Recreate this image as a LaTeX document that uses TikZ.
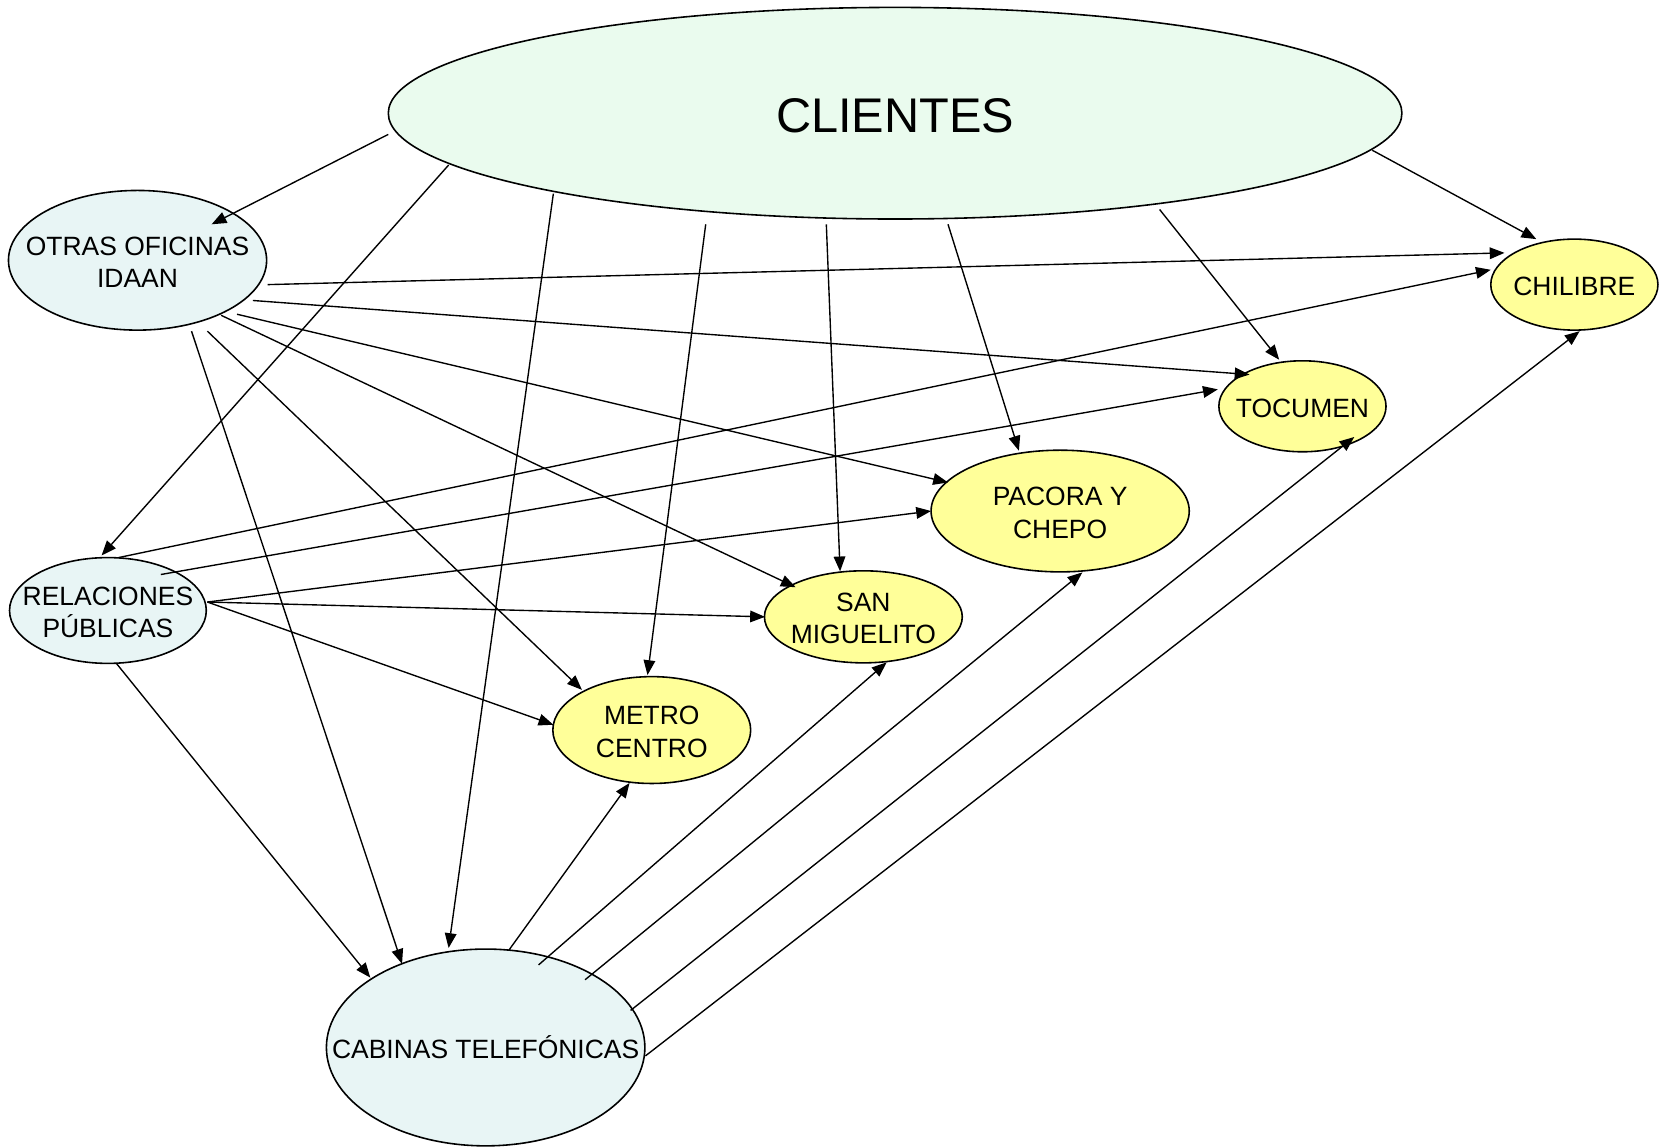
\documentclass[tikz,border=0pt]{standalone}
\usepackage{fontspec}
\setmainfont{Liberation Sans}
\usetikzlibrary{shapes.geometric,arrows.meta,calc}
\definecolor{cliefill}{HTML}{EAFBEE}
\definecolor{srcfill}{HTML}{E8F5F5}
\definecolor{dstfill}{HTML}{FFFF99}
\newcommand{\lbl}[1]{\makebox[0pt]{\raisebox{-10.5pt}[0pt][0pt]{\begin{tabular}{@{}c@{}}#1\end{tabular}}}}
\tikzset{
  bub/.style={ellipse, draw=black, line width=1.5pt, inner sep=0pt, font=\fontsize{25}{30.5}\selectfont},
  srcbub/.style={bub, fill=srcfill},
  dstbub/.style={bub, fill=dstfill},
  arr/.style={-{Triangle[length=14pt,width=11pt]}, line width=1.3pt}
}
\begin{document}
\begin{tikzpicture}[x=1pt,y=-1pt]
\useasboundingbox (0,0) rectangle (1568,1084);
% nodes
\node[bub, fill=cliefill, minimum width=958, minimum height=200, font=\fontsize{46}{54}\selectfont] (cli) at (846,107) {\makebox[0pt]{\raisebox{-18pt}[0pt][0pt]{CLIENTES}}};
\node[srcbub, minimum width=244, minimum height=132] (ofi) at (130,246) {\lbl{OTRAS OFICINAS\\IDAAN}};
\node[srcbub, minimum width=186, minimum height=100] (rel) at (102,577) {\lbl{RELACIONES\\PÚBLICAS}};
\node[srcbub, minimum width=301, minimum height=186] (cab) at (459,990) {\lbl{CABINAS TELEFÓNICAS}};
\node[dstbub, minimum width=187, minimum height=101] (met) at (616,690) {\lbl{METRO\\CENTRO}};
\node[dstbub, minimum width=187, minimum height=87] (san) at (816,583) {\lbl{SAN\\MIGUELITO}};
\node[dstbub, minimum width=244, minimum height=115] (pac) at (1002,483) {\lbl{PACORA Y\\CHEPO}};
\node[dstbub, minimum width=158, minimum height=86] (toc) at (1231,384) {\lbl{TOCUMEN}};
\node[dstbub, minimum width=158, minimum height=86] (chi) at (1488,269) {\lbl{CHILIBRE}};
% from CLIENTES
\draw[arr] ($(cli)+(-479,20)$) -- ($(ofi)+(70,-34)$);
\draw[arr] ($(cli)+(-422,49)$) -- ($(rel)+(-6,-52)$);
\draw[arr] ($(cli)+(-323,76)$) -- ($(cab)+(-35,-94)$);
\draw[arr] ($(cli)+(-179,105)$) -- ($(met)+(-4,-52)$);
\draw[arr] ($(cli)+(-65,105)$) -- ($(san)+(-22,-43)$);
\draw[arr] ($(cli)+(50,105)$) -- ($(pac)+(-39,-57)$);
\draw[arr] ($(cli)+(250,91)$) -- ($(toc)+(-22,-44)$);
\draw[arr] ($(cli)+(451,35)$) -- ($(chi)+(-36,-43)$);
% from OTRAS OFICINAS
\draw[arr] ($(ofi)+(123,23)$) -- ($(chi)+(-66,-30)$);
\draw[arr] ($(ofi)+(109,38)$) -- ($(toc)+(-50,-30)$);
\draw[arr] ($(ofi)+(94,51)$) -- ($(pac)+(-106,-27)$);
\draw[arr] ($(ofi)+(79,52)$) -- ($(san)+(-64,-28)$);
\draw[arr] ($(ofi)+(66,67)$) -- ($(met)+(-66,-38)$);
\draw[arr] ($(ofi)+(51,67)$) -- ($(cab)+(-79,-79)$);
% from RELACIONES
\draw[arr] ($(rel)+(10,-50)$) -- ($(chi)+(-79,-14)$);
\draw[arr] ($(rel)+(50,-34)$) -- ($(toc)+(-80,-16)$);
\draw[arr] ($(rel)+(94,-8)$) -- ($(pac)+(-122,0)$);
\draw[arr] ($(rel)+(94,-8)$) -- ($(san)+(-93,0)$);
\draw[arr] ($(rel)+(94,-8)$) -- ($(met)+(-93,-5)$);
\draw[arr] ($(rel)+(8,50)$) -- ($(cab)+(-109,-66)$);
% from CABINAS
\draw[arr] ($(cab)+(22,-92)$) -- ($(met)+(-21,50)$);
\draw[arr] ($(cab)+(50,-78)$) -- ($(san)+(22,43)$);
\draw[arr] ($(cab)+(94,-64)$) -- ($(pac)+(21,58)$);
\draw[arr] ($(cab)+(137,-35)$) -- ($(toc)+(49,29)$);
\draw[arr] ($(cab)+(151,8)$) -- ($(chi)+(5,44)$);
\end{tikzpicture}
\end{document}
